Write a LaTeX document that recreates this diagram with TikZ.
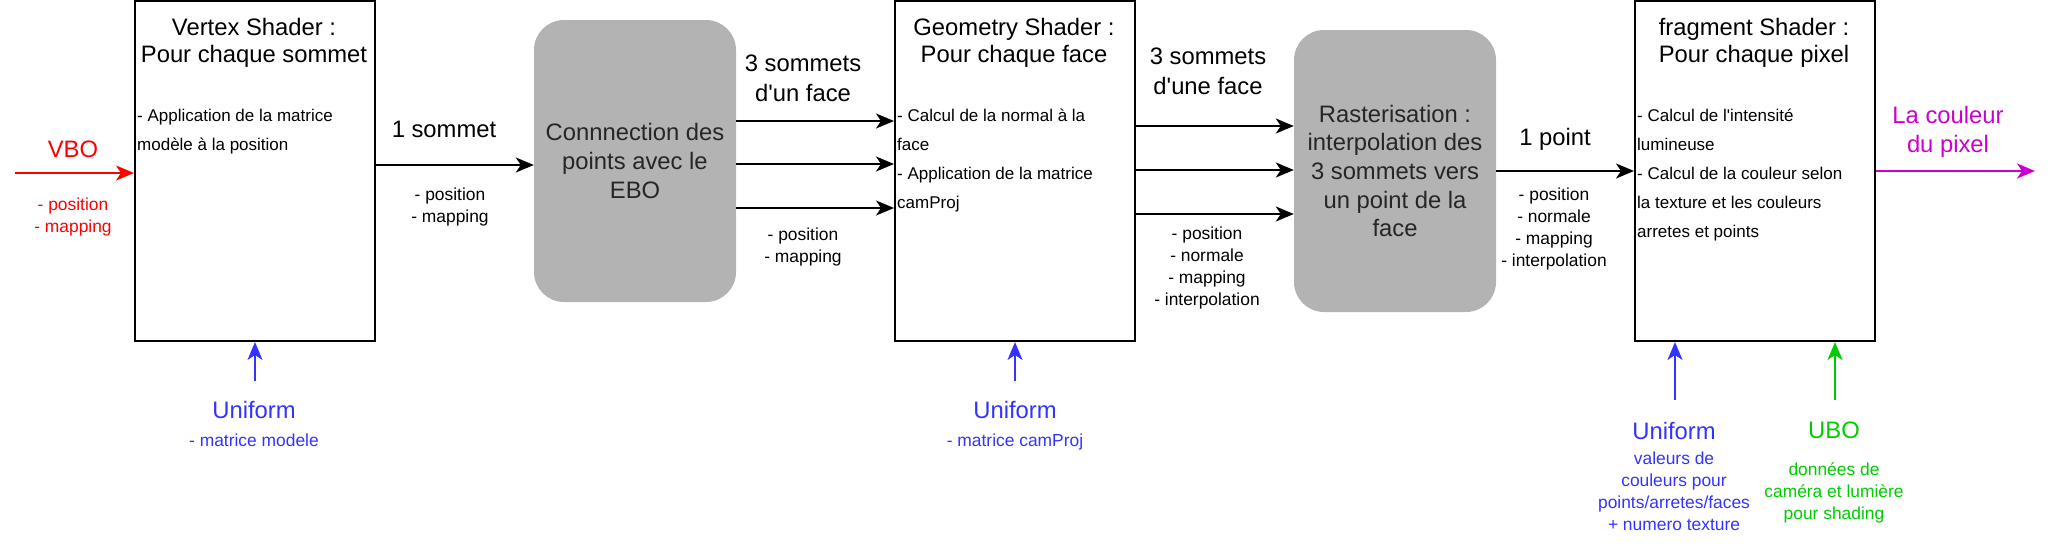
\documentclass[tikz,border=0pt]{standalone}
\usepackage{fontspec}
\setmainfont{Liberation Sans}
\usetikzlibrary{arrows.meta,calc}
\definecolor{vbored}{HTML}{FF0000}
\definecolor{unifblue}{HTML}{3333FF}
\definecolor{ubogreen}{HTML}{00CC00}
\definecolor{outmag}{HTML}{CC00CC}
\definecolor{procgray}{HTML}{B3B3B3}
\definecolor{proctext}{HTML}{262626}
\begin{document}
\begin{tikzpicture}[x=1pt,y=-1pt,
  shaderbox/.style={draw=black, line width=2pt, minimum width=240pt, minimum height=340pt, inner sep=0pt},
  procbox/.style={fill=procgray, rounded corners=30pt, minimum width=202pt, minimum height=282pt, inner sep=0pt, align=center, text=proctext, font=\fontsize{23.8}{28.7}\selectfont},
  arr/.style={line width=2pt, -{Stealth[length=18pt,width=15pt,inset=5pt]}},
  titletext/.style={anchor=north, align=center, inner sep=0pt, font=\fontsize{23.8}{27}\selectfont},
  bodytext/.style={anchor=north west, align=left, inner sep=0pt, font=\fontsize{17}{29}\selectfont},
  bigtext/.style={anchor=north, align=center, inner sep=0pt, font=\fontsize{23.8}{29.5}\selectfont},
  smalltext/.style={anchor=north, align=center, inner sep=0pt, font=\fontsize{17.4}{22}\selectfont},
]
\useasboundingbox (0,0) rectangle (2052,552);

% ---------- Vertex shader ----------
\node[shaderbox] (vs) at (255,171) {};
\node[titletext] (vstitle) at (254,18) {Vertex Shader :\\Pour chaque sommet};
\node[bodytext] (vsbody) at (137,109) {- Application de la matrice\\modèle à la position};

\coordinate (vboin) at (15,173);
\draw[arr, vbored] (vboin) -- (vboin -| vs.west);
\node[bigtext, text=vbored] (vbo) at (73,141) {VBO};
\node[smalltext, text=vbored] (vbodata) at (73,198) {- position\\- mapping};

\coordinate (vsunif) at (255,381);
\draw[arr, unifblue] (vsunif) -- (vs.south);
\node[bigtext, text=unifblue] (vsuniflbl) at (254,401) {Uniform};
\node[smalltext, text=unifblue] (vsunifdata) at (254,434) {- matrice modele};

% ---------- EBO ----------
\node[procbox] (ebo) at (635,161) {Connnection des\\points avec le\\EBO};
\draw[arr] (vs.east |- 0,165) -- (ebo.west |- 0,165);
\node[bigtext] (onesommet) at (444,121) {1 sommet};
\node[smalltext] (vsout) at (450,188) {- position\\- mapping};

% ---------- Geometry shader ----------
\node[shaderbox] (gs) at (1015,171) {};
\node[titletext] (gstitle) at (1014,18) {Geometry Shader :\\Pour chaque face};
\node[bodytext] (gsbody) at (897,109) {- Calcul de la normal à la\\face\\- Application de la matrice\\camProj};

\draw[arr] (ebo.east |- 0,121) -- (gs.west |- 0,121);
\draw[arr] (ebo.east |- 0,164) -- (gs.west |- 0,164);
\draw[arr] (ebo.east |- 0,208) -- (gs.west |- 0,208);
\node[bigtext] (threeA) at (803,55) {3 sommets\\d\textquotesingle un face};
\node[smalltext] (eboout) at (803,228) {- position\\- mapping};

\coordinate (gsunif) at (1015,381);
\draw[arr, unifblue] (gsunif) -- (gs.south);
\node[bigtext, text=unifblue] (gsuniflbl) at (1015,401) {Uniform};
\node[smalltext, text=unifblue] (gsunifdata) at (1015,434) {- matrice camProj};

% ---------- Rasterisation ----------
\node[procbox] (rast) at (1395,171) {Rasterisation :\\interpolation des\\3 sommets vers\\un point de la\\face};
\draw[arr] (gs.east |- 0,126) -- (rast.west |- 0,126);
\draw[arr] (gs.east |- 0,170) -- (rast.west |- 0,170);
\draw[arr] (gs.east |- 0,214) -- (rast.west |- 0,214);
\node[bigtext] (threeB) at (1208,48) {3 sommets\\d\textquotesingle une face};
\node[smalltext] (gsout) at (1207,227) {- position\\- normale\\- mapping\\- interpolation};

% ---------- Fragment shader ----------
\node[shaderbox] (fs) at (1755,171) {};
\node[titletext] (fstitle) at (1754,18) {fragment Shader :\\Pour chaque pixel};
\node[bodytext] (fsbody) at (1637,109) {- Calcul de l\textquotesingle intensité\\lumineuse\\- Calcul de la couleur selon\\la texture et les couleurs\\arretes et points};

\draw[arr] (rast.east |- 0,171) -- (fs.west |- 0,171);
\node[bigtext] (onepoint) at (1555,128) {1 point};
\node[smalltext] (rastout) at (1554,188) {- position\\- normale\\- mapping\\- interpolation};

\coordinate (pixout) at (2035,171);
\draw[arr, outmag] (fs.east) -- (pixout);
\node[bigtext, text=outmag] (couleur) at (1948,106) {La couleur\\du pixel};

\coordinate (fsunif) at (1675,400);
\draw[arr, unifblue] (fsunif) -- (fsunif |- fs.south);
\node[bigtext, text=unifblue] (fsuniflbl) at (1674,422) {Uniform};
\node[smalltext, text=unifblue] (fsunifdata) at (1674,452) {valeurs de\\couleurs pour\\points/arretes/faces\\+ numero texture};

\coordinate (fsubo) at (1835,400);
\draw[arr, ubogreen] (fsubo) -- (fsubo |- fs.south);
\node[bigtext, text=ubogreen] (ubolbl) at (1834,422) {UBO};
\node[smalltext, text=ubogreen] (ubodata) at (1834,462) {données de\\caméra et lumière\\pour shading};
\end{tikzpicture}
\end{document}
